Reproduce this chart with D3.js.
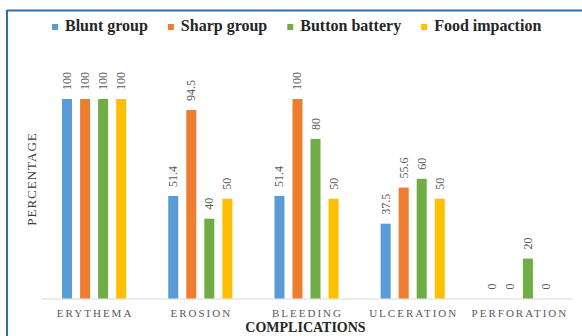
<!DOCTYPE html>
<html>
<head>
<meta charset="utf-8">
<script src="https://cdn.jsdelivr.net/npm/d3@7"></script>
<style>
html,body{margin:0;padding:0;background:#fff;}
svg{display:block;}
</style>
</head>
<body>
<svg id="chart" width="582" height="336"></svg>
<script>
const categories = ["ERYTHEMA", "EROSION", "BLEEDING", "ULCERATION", "PERFORATION"];
const seriesNames = ["Blunt group", "Sharp group", "Button battery", "Food impaction"];
const bluntValues = [100, 51.4, 51.4, 37.5, 0];
const sharpValues = [100, 94.5, 100, 55.6, 0];
const batteryValues = [100, 40, 80, 60, 20];
const foodValues = [100, 50, 50, 50, 0];
const seriesColors = ["#5B9BD5", "#ED7D31", "#70AD47", "#FFC000"];
const valueLabels = [
  ["100", "51.4", "51.4", "37.5", "0"],
  ["100", "94.5", "100", "55.6", "0"],
  ["100", "40", "80", "60", "20"],
  ["100", "50", "50", "50", "0"]
];
const xTitle = "COMPLICATIONS";
const yTitle = "PERCENTAGE";

const allSeries = [bluntValues, sharpValues, batteryValues, foodValues];
const svg = d3.select("#chart");
const serif = "Liberation Serif, Tinos, Times New Roman, DejaVu Serif, serif";

// border (blue frame top and left)
svg.append("line").attr("x1", 7).attr("x2", 582).attr("y1", 10.5).attr("y2", 10.5)
  .attr("stroke", "#2f6ea6").attr("stroke-width", 2);
svg.append("line").attr("x1", 7).attr("x2", 7).attr("y1", 10).attr("y2", 336)
  .attr("stroke", "#2f6ea6").attr("stroke-width", 2);

const x0 = d3.scaleBand().domain(categories).range([41, 572]).padding(0);
const x1 = d3.scaleBand().domain(seriesNames).range([0, x0.bandwidth()])
  .paddingInner(8 / 18).paddingOuter(1.1667);
const y = d3.scaleLinear().domain([0, 100]).range([298.5, 99]);

// baseline
svg.append("line").attr("x1", x0.range()[0]).attr("x2", x0.range()[1])
  .attr("y1", y(0) + 0.5).attr("y2", y(0) + 0.5)
  .attr("stroke", "#d9d9d9").attr("stroke-width", 1);

// bars
seriesNames.forEach((s, si) => {
  const g = svg.append("g");
  categories.forEach((c, ci) => {
    const v = allSeries[si][ci];
    const bx = x0(c) + x1(s);
    g.append("rect")
      .attr("x", bx).attr("width", x1.bandwidth())
      .attr("y", y(v)).attr("height", y(0) - y(v))
      .attr("fill", seriesColors[si]);
    const cx = bx + x1.bandwidth() / 2;
    const ty = y(v) - 9;
    g.append("text")
      .attr("transform", `translate(${cx},${ty}) rotate(-90)`)
      .attr("text-anchor", "start")
      .attr("dominant-baseline", "central")
      .style("font-family", serif).attr("font-size", 12)
      .attr("fill", "#595959")
      .text(valueLabels[si][ci]);
  });
});

// category labels
categories.forEach(c => {
  svg.append("text")
    .attr("x", x0(c) + x0.bandwidth() / 2 + 1)
    .attr("y", 317)
    .attr("text-anchor", "middle")
    .style("font-family", serif).attr("font-size", 11)
    .attr("letter-spacing", "2px")
    .attr("fill", "#595959")
    .text(c);
});

// axis titles
svg.append("text")
  .attr("x", (x0.range()[0] + x0.range()[1]) / 2 - 1)
  .attr("y", 332)
  .attr("text-anchor", "middle")
  .style("font-family", serif).attr("font-size", 14).attr("font-weight", "bold")
  .attr("fill", "#262626")
  .text(xTitle);

svg.append("text")
  .attr("transform", "translate(36,179) rotate(-90)")
  .attr("text-anchor", "middle")
  .style("font-family", serif).attr("font-size", 13)
  .attr("letter-spacing", "1px")
  .attr("fill", "#404040")
  .text(yTitle);

// legend
let lx = 52;
seriesNames.forEach((s, si) => {
  svg.append("rect").attr("x", lx).attr("y", 24).attr("width", 6).attr("height", 6)
    .attr("fill", seriesColors[si]);
  const t = svg.append("text")
    .attr("x", lx + 13).attr("y", 31)
    .style("font-family", serif).attr("font-size", 16).attr("font-weight", "bold")
    .attr("fill", "#262626")
    .text(s);
  const w = t.node().getComputedTextLength();
  lx = lx + 13 + w + 20;
});
</script>
</body>
</html>
